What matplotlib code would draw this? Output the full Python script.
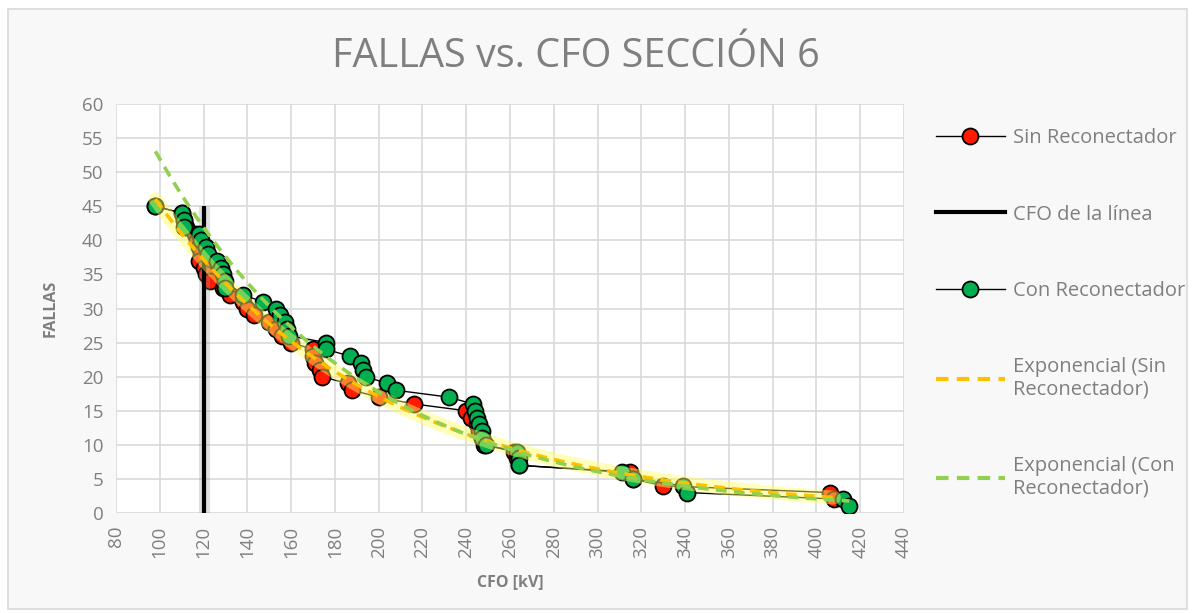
import numpy as np
import matplotlib
matplotlib.use('Agg')
import matplotlib.pyplot as plt
from matplotlib.lines import Line2D
from matplotlib.patches import Rectangle

# Data

sin_cfo = [98, 110, 111, 112, 116, 117, 118, 119, 118, 120, 121, 123,
           129, 132, 138, 140, 143, 150, 153, 156, 160, 170, 170, 171,
           173, 174, 186, 188, 200, 216, 240, 242, 245, 246, 247, 248,
           262, 263, 264, 315, 316, 330, 406, 408]
sin_fallas = [45, 44, 43, 42, 41, 40, 39, 38, 37, 36, 35, 34,
              33, 32, 31, 30, 29, 28, 27, 26, 25, 24, 23, 22,
              21, 20, 19, 18, 17, 16, 15, 14, 13, 12, 11, 10,
              9, 8, 7, 6, 5, 4, 3, 2]

con_cfo = [98, 110, 111, 111, 118, 119, 121, 122, 126, 128, 129, 130,
           130, 138, 147, 153, 155, 157, 158, 159, 176, 176, 187, 192,
           193, 194, 204, 208, 232, 243, 244, 245, 246, 247, 247, 249,
           263, 264, 264, 311, 316, 339, 341, 412, 415]
con_fallas = [45, 44, 43, 42, 41, 40, 39, 38, 37, 36, 35, 34,
              33, 32, 31, 30, 29, 28, 27, 26, 25, 24, 23, 22,
              21, 20, 19, 18, 17, 16, 15, 14, 13, 12, 11, 10,
              9, 8, 7, 6, 5, 4, 3, 2, 1]

cfo_linea = 120
cfo_linea_fallas = [0, 45]

# Exponential trend lines (same as Excel: fit on log(y))

def exp_trend(x, y):
    b, ln_a = np.polyfit(x, np.log(y), 1)
    xs = np.linspace(min(x), max(x), 200)
    return xs, np.exp(ln_a) * np.exp(b * xs)

sin_tx, sin_ty = exp_trend(np.array(sin_cfo), np.array(sin_fallas))
con_tx, con_ty = exp_trend(np.array(con_cfo), np.array(con_fallas))

gris = '#7F7F7F'
font = 'Open Sans'

fig = plt.figure(figsize=(11.93, 6.13), dpi=100)
fig.patch.set_facecolor('white')
fig.patches.append(Rectangle((8 / 1193, 4 / 613), 1179 / 1193, 600 / 613,
                             transform=fig.transFigure, facecolor='#F8F8F8',
                             edgecolor='#D9D9D9', lw=1.2, zorder=-10))

ax = fig.add_axes([116 / 1193, 1 - 513 / 613, 788 / 1193, 409 / 613])
ax.set_facecolor('white')

# Series
ax.plot(sin_cfo, sin_fallas, '-o', color='black', lw=1, ms=11.5,
        mfc='#FF1A00', mec='black', mew=1.3, zorder=3)
ax.plot([cfo_linea, cfo_linea], cfo_linea_fallas, color='#999999', lw=8,
        alpha=0.3, solid_capstyle='butt', zorder=3.5)
ax.plot([cfo_linea, cfo_linea], cfo_linea_fallas, color='black', lw=3,
        solid_capstyle='butt', zorder=3.6)
ax.plot(con_cfo, con_fallas, '-o', color='black', lw=1, ms=11.5,
        mfc='#00B050', mec='black', mew=1.3, zorder=4)

# Trend lines
ax.plot(sin_tx, sin_ty, color='#FFFF66', lw=10, alpha=0.45, zorder=5,
        solid_capstyle='round')
ax.plot(sin_tx, sin_ty, color='#FFC000', lw=2.6, ls=(0, (3, 2)), zorder=5.1)
ax.plot(con_tx, con_ty, color='#92D050', lw=2.6, ls=(0, (3, 2)), zorder=5.2)

ax.set_xlim(80, 440)
ax.set_ylim(0, 60)
ax.set_xticks(np.arange(80, 441, 20))
ax.set_yticks(np.arange(0, 61, 5))
ax.grid(True, color='#D9D9D9', lw=1.2)
ax.set_axisbelow(True)
for s in ax.spines.values():
    s.set_visible(False)
ax.tick_params(length=0, labelsize=13.5, labelcolor=gris, pad=9)
for lab in ax.get_xticklabels():
    lab.set_rotation(90)
    lab.set_fontfamily(font)
for lab in ax.get_yticklabels():
    lab.set_fontfamily(font)

ax.set_xlabel('CFO [kV]', fontsize=11.5, fontweight='bold', color=gris,
              family=font, labelpad=12)
ax.set_ylabel('FALLAS', fontsize=11.5, fontweight='bold', color=gris,
              family=font, labelpad=17)
fig.text(576 / 1193, 1 - 57 / 613, 'FALLAS vs. CFO SECCIÓN 6', fontsize=28.5,
         color=gris, family=font, ha='center', va='center')

handles = [
    Line2D([], [], color='black', lw=1, marker='o', ms=11.5,
           mfc='#FF1A00', mec='black', mew=1.3),
    Line2D([], [], color='black', lw=3),
    Line2D([], [], color='black', lw=1, marker='o', ms=11.5,
           mfc='#00B050', mec='black', mew=1.3),
    Line2D([], [], color='#FFC000', lw=3, ls=(0, (3, 2))),
    Line2D([], [], color='#92D050', lw=3, ls=(0, (3, 2))),
]
labels = ['Sin Reconectador', 'CFO de la línea', 'Con Reconectador',
          'Exponencial (Sin\nReconectador)', 'Exponencial (Con\nReconectador)']
leg = fig.legend(handles, labels, loc='upper left',
                 bbox_to_anchor=(918 / 1193, 1 - 110 / 613),
                 frameon=False, handlelength=3.4, handletextpad=0.4,
                 labelspacing=2.8, prop={'family': font, 'size': 14.5})
for t in leg.get_texts():
    t.set_color(gris)
    t.set_linespacing(1.15)

fig.savefig('out.png', dpi=100)
